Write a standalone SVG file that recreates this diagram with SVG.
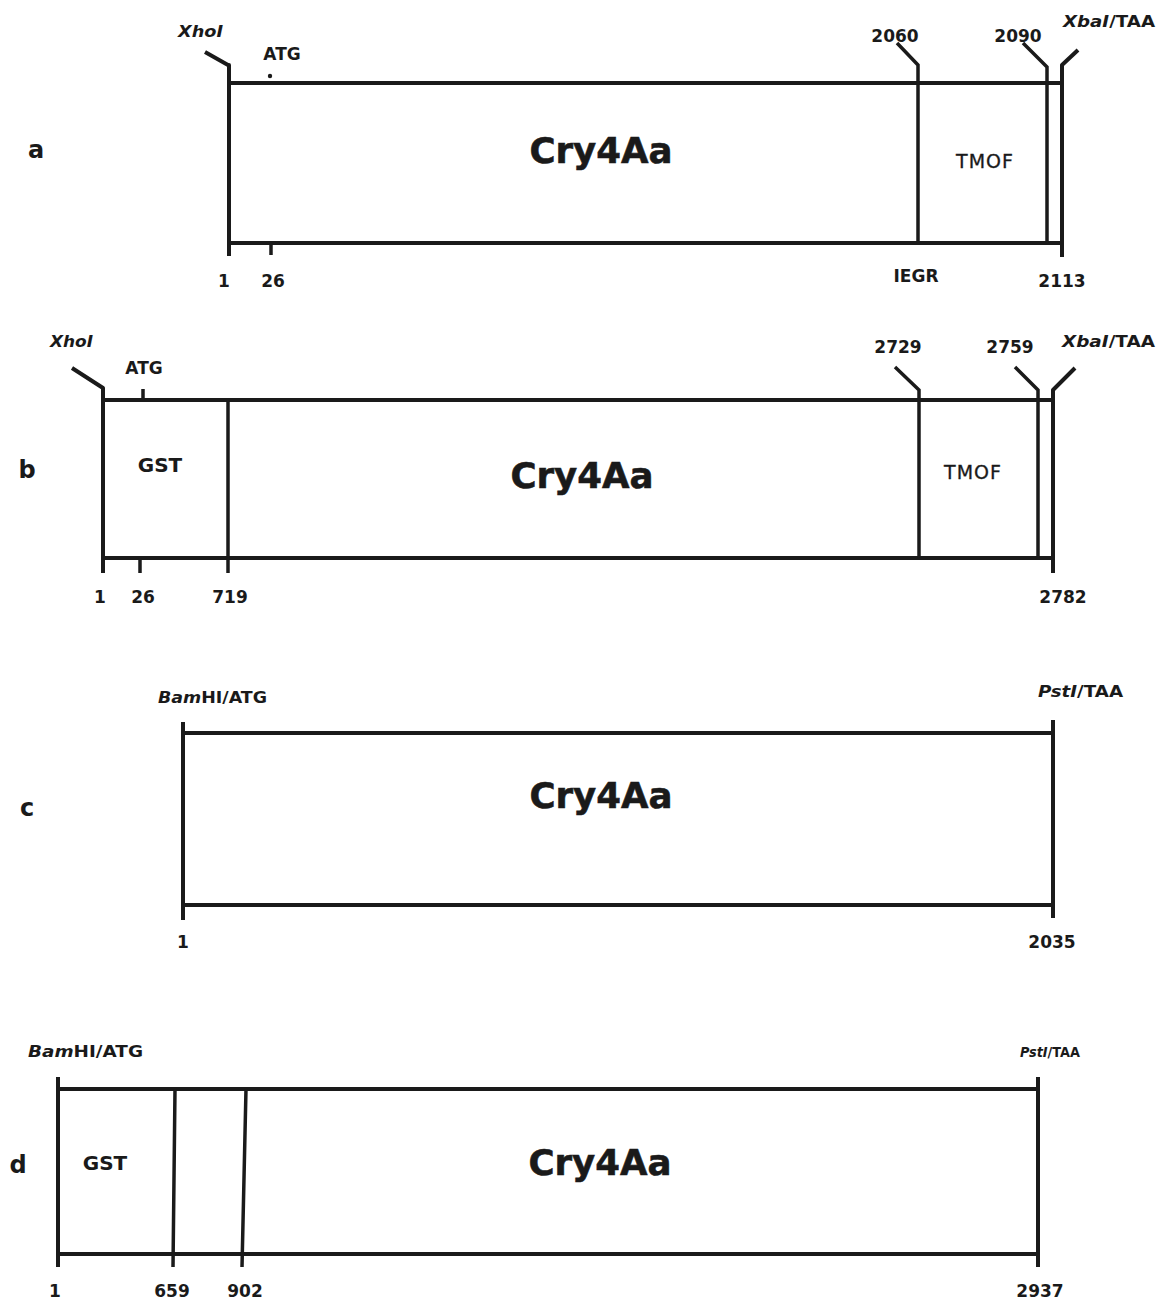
<svg xmlns="http://www.w3.org/2000/svg" width="1157" height="1302" viewBox="0 0 1157 1302">
<style>
  text { font-family: "DejaVu Sans", "Liberation Sans", sans-serif; font-weight: bold; fill: #1a1a1a; }
  .ln { stroke: #1a1a1a; stroke-width: 4; fill: none; stroke-linecap: butt; stroke-linejoin: round; }
  .in { stroke: #1a1a1a; stroke-width: 3.5; fill: none; }
  .num { font-size: 17px; text-anchor: middle; }
  .site { font-size: 16px; }
  .it { font-style: italic; }
  .big { font-size: 36px; text-anchor: middle; stroke: #1a1a1a; stroke-width: 0.6; }
  .med { font-size: 20px; text-anchor: middle; }
  .tm { font-size: 19px; font-weight: normal; text-anchor: middle; letter-spacing: 1px; stroke: #1a1a1a; stroke-width: 0.3; }
  .pl { font-size: 24px; text-anchor: middle; }
</style>
<rect width="1157" height="1302" fill="#ffffff"/>

<g id="panel-a">
  <text class="pl" x="36" y="158">a</text>
  <path class="ln" d="M229,83 H1062 M229,243 H1062"/>
  <path class="ln" d="M205,52 L228,65 L229,65 V256"/>
  <text class="site it" x="178" y="37" textLength="45" lengthAdjust="spacingAndGlyphs">XhoI</text>
  <text class="num" x="282" y="60" font-size="16">ATG</text>
  <circle cx="270" cy="76" r="2.2" fill="#1a1a1a"/>
  <path class="in" d="M271,243 V255"/>
  <path class="in" d="M897,43 L918,65 V243"/>
  <path class="in" d="M1023,43 L1047,67 V243"/>
  <path class="ln" d="M1078,50 L1062,65 V257"/>
  <text class="num" x="895" y="42">2060</text>
  <text class="num" x="1018" y="42">2090</text>
  <text class="site" x="1063" y="27" textLength="92" lengthAdjust="spacingAndGlyphs"><tspan class="it">XbaI</tspan>/TAA</text>
  <text class="big" x="601" y="163" textLength="143" lengthAdjust="spacingAndGlyphs">Cry4Aa</text>
  <text class="tm" x="985" y="168">TMOF</text>
  <text class="num" x="224" y="287">1</text>
  <text class="num" x="273" y="287">26</text>
  <text class="num" x="916" y="282">IEGR</text>
  <text class="num" x="1062" y="287">2113</text>
</g>

<g id="panel-b">
  <text class="pl" x="27" y="478">b</text>
  <path class="ln" d="M103,400 H1053 M103,558 H1053"/>
  <path class="ln" d="M72,368 L103,388 V573"/>
  <text class="site it" x="50" y="347" textLength="43" lengthAdjust="spacingAndGlyphs">XhoI</text>
  <text class="num" x="144" y="374" font-size="16">ATG</text>
  <path class="in" d="M143,389 V400 M140,558 V573"/>
  <path class="in" d="M228,400 V573"/>
  <path class="in" d="M895,367 L919,390 V558"/>
  <path class="in" d="M1015,367 L1038,390 V558"/>
  <path class="ln" d="M1075,368 L1053,390 V573"/>
  <text class="num" x="898" y="353">2729</text>
  <text class="num" x="1010" y="353">2759</text>
  <text class="site" x="1062" y="347" textLength="93" lengthAdjust="spacingAndGlyphs"><tspan class="it">XbaI</tspan>/TAA</text>
  <text class="med" x="160" y="472">GST</text>
  <text class="big" x="582" y="488" textLength="143" lengthAdjust="spacingAndGlyphs">Cry4Aa</text>
  <text class="tm" x="973" y="479">TMOF</text>
  <text class="num" x="100" y="603">1</text>
  <text class="num" x="143" y="603">26</text>
  <text class="num" x="230" y="603">719</text>
  <text class="num" x="1063" y="603">2782</text>
</g>

<g id="panel-c">
  <text class="pl" x="27" y="816">c</text>
  <path class="ln" d="M183,733 H1053 M183,905 H1053"/>
  <path class="ln" d="M183,722 V920 M1053,720 V918"/>
  <text class="site" x="158" y="703" textLength="109" lengthAdjust="spacingAndGlyphs"><tspan class="it">Bam</tspan>HI/ATG</text>
  <text class="site" x="1038" y="697" textLength="85" lengthAdjust="spacingAndGlyphs"><tspan class="it">PstI</tspan>/TAA</text>
  <text class="big" x="601" y="808" textLength="143" lengthAdjust="spacingAndGlyphs">Cry4Aa</text>
  <text class="num" x="183" y="948">1</text>
  <text class="num" x="1052" y="948">2035</text>
</g>

<g id="panel-d">
  <text class="pl" x="18" y="1173">d</text>
  <path class="ln" d="M58,1089 H1038 M58,1254 H1038"/>
  <path class="ln" d="M58,1077 V1267 M1038,1077 V1267"/>
  <path class="in" d="M175,1089 L173,1267 M246,1089 L242,1267"/>
  <text class="site" x="28" y="1057" textLength="115" lengthAdjust="spacingAndGlyphs"><tspan class="it">Bam</tspan>HI/ATG</text>
  <text x="1020" y="1057" font-size="14" textLength="60" lengthAdjust="spacingAndGlyphs"><tspan class="it">PstI</tspan>/TAA</text>
  <text class="med" x="105" y="1170">GST</text>
  <text class="big" x="600" y="1175" textLength="143" lengthAdjust="spacingAndGlyphs">Cry4Aa</text>
  <text class="num" x="55" y="1297">1</text>
  <text class="num" x="172" y="1297">659</text>
  <text class="num" x="245" y="1297">902</text>
  <text class="num" x="1040" y="1297">2937</text>
</g>
</svg>
